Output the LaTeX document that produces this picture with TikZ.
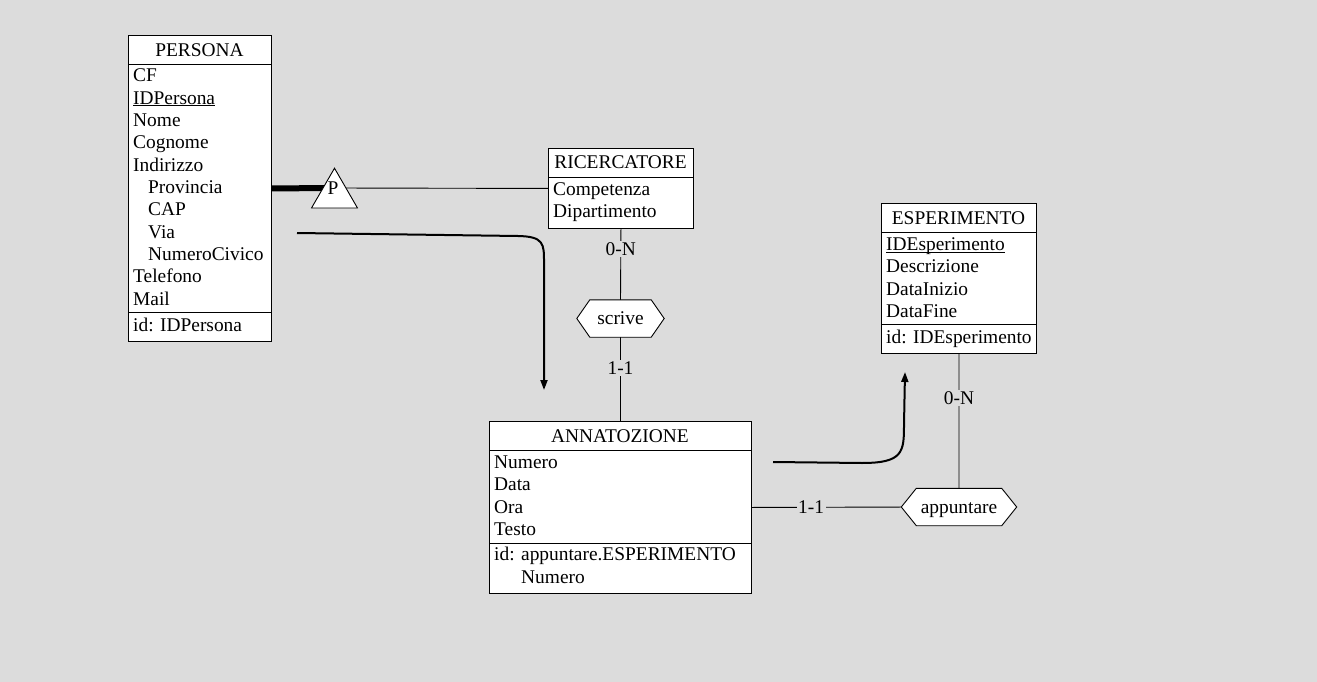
\documentclass[tikz,border=0pt]{standalone}
\usepackage{fontspec}
\setmainfont{Liberation Serif}
\usetikzlibrary{arrows.meta,shapes.geometric}
\pgfdeclarelayer{bglayer}
\pgfdeclarelayer{edgelayer}
\pgfsetlayers{bglayer,edgelayer,main}
\definecolor{bg}{RGB}{220,220,220}
\newcommand{\keyattr}[1]{\underline{\smash{#1}}}
\tikzset{
  ent/.style={draw, fill=white, anchor=north west, inner sep=0pt, line width=0.9pt},
  sep/.style={line width=0.9pt},
  txt/.style={font=\fontsize{19.4}{22}\selectfont, inner sep=0pt, anchor=base west},
  head/.style={font=\fontsize{19.4}{22}\selectfont, inner sep=0pt, anchor=base},
  lbl/.style={font=\fontsize{19.4}{22}\selectfont, fill=bg, inner sep=1.5pt},
  conn/.style={line width=0.9pt},
  flow/.style={line width=2pt, -{Triangle[length=10pt,width=7pt]}},
  relbox/.style={font=\fontsize{19.4}{22}\selectfont, inner sep=0pt, minimum height=37pt, text height=17pt, text depth=4.4pt},
  hexa/.style={draw, fill=white, line width=0.9pt},
  isa/.style={draw, fill=white, regular polygon, regular polygon sides=3, minimum size=53pt, inner sep=0pt, line width=0.9pt}
}
\begin{document}
\begin{tikzpicture}[x=1pt,y=-1pt]
\useasboundingbox (0,0) rectangle (1317,682);
\begin{pgfonlayer}{bglayer}
\fill[bg] (0,0) rectangle (1317,682);
\end{pgfonlayer}

% PERSONA
\node[ent, minimum width=143pt, minimum height=306pt] (persona) at (128,35) {};
\draw[sep] ([yshift=-29pt]persona.north west) -- ([yshift=-29pt]persona.north east);
\draw[sep] ([yshift=29pt]persona.south west) -- ([yshift=29pt]persona.south east);
\node[head] (ph) at (199.5,56.5) {PERSONA};
\node[txt] (p1) at (133,82) {CF};
\node[txt] (p2) at (133,104.3) {\keyattr{IDPersona}};
\node[txt] (p3) at (133,126.6) {Nome};
\node[txt] (p4) at (133,148.9) {Cognome};
\node[txt] (p5) at (133,171.2) {Indirizzo};
\node[txt] (p6) at (148,193.5) {Provincia};
\node[txt] (p7) at (148,215.8) {CAP};
\node[txt] (p8) at (148,238.1) {Via};
\node[txt] (p9) at (148,260.4) {NumeroCivico};
\node[txt] (p10) at (133,282.7) {Telefono};
\node[txt] (p11) at (133,305) {Mail};
\node[txt] (pid) at (133,331.5) {id: IDPersona};

% RICERCATORE
\node[ent, minimum width=145pt, minimum height=80pt] (ric) at (548,148) {};
\draw[sep] ([yshift=-29pt]ric.north west) -- ([yshift=-29pt]ric.north east);
\node[head] (rh) at (620.5,168.5) {RICERCATORE};
\node[txt] (r1) at (553,195.5) {Competenza};
\node[txt] (r2) at (553,217.5) {Dipartimento};

% ESPERIMENTO
\node[ent, minimum width=155pt, minimum height=150pt] (esp) at (881,203) {};
\draw[sep] ([yshift=-29pt]esp.north west) -- ([yshift=-29pt]esp.north east);
\draw[sep] ([yshift=29pt]esp.south west) -- ([yshift=29pt]esp.south east);
\node[head] (eh) at (958.5,224.5) {ESPERIMENTO};
\node[txt] (e1) at (886,250.5) {\keyattr{IDEsperimento}};
\node[txt] (e2) at (886,272.8) {Descrizione};
\node[txt] (e3) at (886,295.1) {DataInizio};
\node[txt] (e4) at (886,317.4) {DataFine};
\node[txt] (eid) at (886,343.5) {id: IDEsperimento};

% ANNATOZIONE
\node[ent, minimum width=262pt, minimum height=172pt] (ann) at (489,421) {};
\draw[sep] ([yshift=-29pt]ann.north west) -- ([yshift=-29pt]ann.north east);
\draw[sep] ([yshift=50pt]ann.south west) -- ([yshift=50pt]ann.south east);
\node[head] (ah) at (620,442.5) {ANNATOZIONE};
\node[txt] (a1) at (494,468.5) {Numero};
\node[txt] (a2) at (494,490.8) {Data};
\node[txt] (a3) at (494,513.1) {Ora};
\node[txt] (a4) at (494,535.4) {Testo};
\node[txt] (aid) at (494,560.5) {id: appuntare.ESPERIMENTO};
\node[txt] (aid2) at (521,583.5) {Numero};

% relationships (text boxes; hexagon outlines drawn below)
\node[relbox, minimum width=61pt] (scrive) at (620.5,318.5) {scrive};
\node[relbox, minimum width=85pt] (app) at (959,507) {appuntare};

% is-a triangle
\node[isa] (tri) at (334.5,194.7) {};
\node[font=\fontsize{19.4}{22}\selectfont, inner sep=0pt] (P) at (333,188) {P};

% free arrow ends
\coordinate (f1s) at (297,233);
\coordinate (f1e) at (544,390);
\coordinate (f2s) at (773,462);
\coordinate (f2e) at (905,372);

\begin{pgfonlayer}{edgelayer}
\draw[line width=6pt] (persona.east) -- (P.center);
\draw[conn] (P.center) -- (ric.west);
\draw[conn] (ric.south) -- node[lbl, pos=0.28] (l1) {0-N} (scrive.north);
\draw[conn] (scrive.south) -- node[lbl, pos=0.37] (l2) {1-1} (ann.north);
\draw[conn] (esp.south) -- node[lbl, pos=0.33] (l3) {0-N} (app.north);
\draw[conn] (ann.east) -- node[lbl, pos=0.36] (l4) {1-1} (app.west);
\draw[hexa] (scrive.north west) -- (scrive.north east) -- ([xshift=13pt]scrive.east)
  -- (scrive.south east) -- (scrive.south west) -- ([xshift=-13pt]scrive.west) -- cycle;
\draw[hexa] (app.north west) -- (app.north east) -- ([xshift=15pt]app.east)
  -- (app.south east) -- (app.south west) -- ([xshift=-15pt]app.west) -- cycle;
\end{pgfonlayer}

\draw[flow] (f1s) -- (518,236) .. controls (544,236.5) and (544,244) .. (544,262) -- (f1e);
\draw[flow] (f2s) -- (862,463) .. controls (903,463) and (904,452) .. (904,425) -- (f2e);
\end{tikzpicture}
\end{document}
